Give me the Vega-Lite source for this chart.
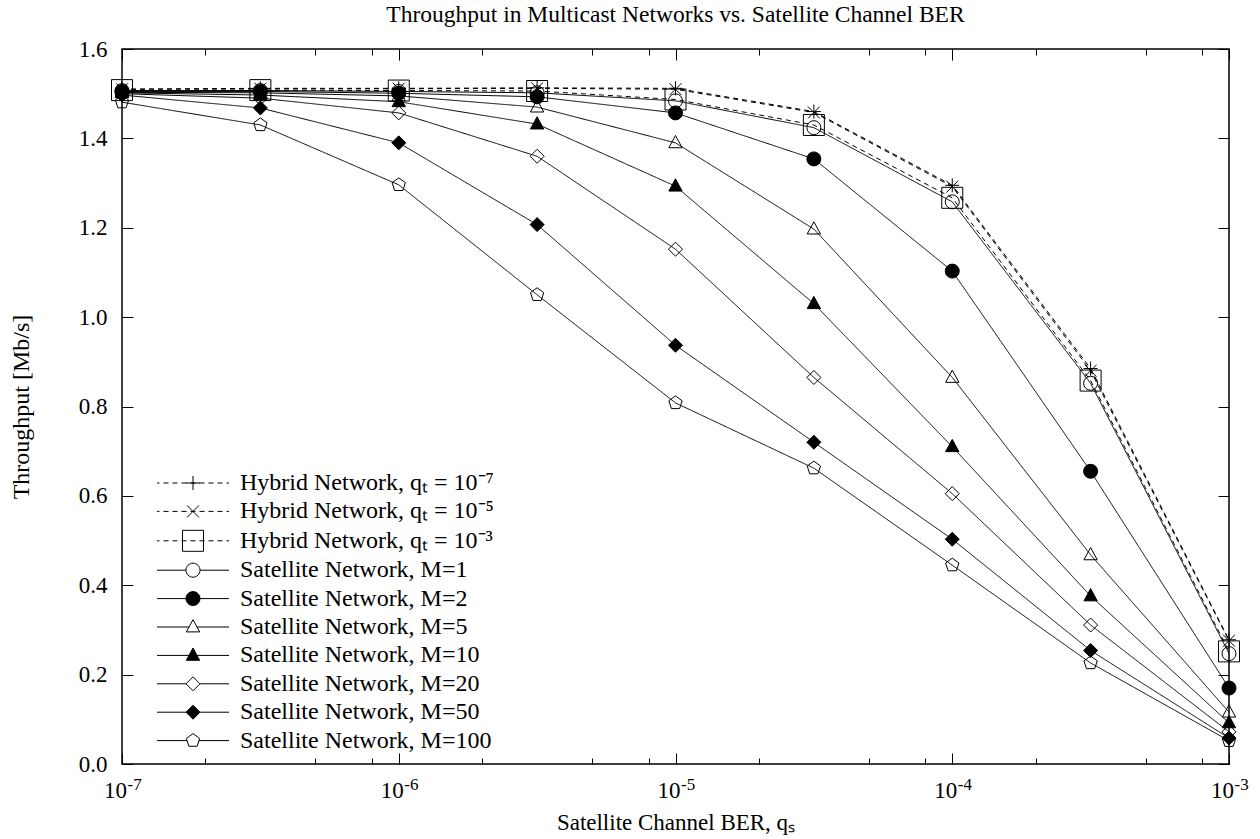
{
  "$schema": "https://vega.github.io/schema/vega-lite/v6.json",
  "width": 1107,
  "height": 715,
  "autosize": {"type": "none"},
  "padding": {"left": 122, "top": 49, "right": 31, "bottom": 75},
  "background": "white",
  "title": {"text": "Throughput in Multicast Networks vs. Satellite Channel BER", "font": "Liberation Serif", "fontSize": 23.5, "fontWeight": "normal", "color": "black", "anchor": "middle", "offset": 12},
  "config": {"view": {"stroke": "black", "strokeWidth": 1.5}, "font": "Liberation Serif"},
  "data": {"values": [
    {"s":"H7","q":1e-7,"t":1.510},{"s":"H7","q":3.162e-7,"t":1.512},{"s":"H7","q":1e-6,"t":1.512},{"s":"H7","q":3.162e-6,"t":1.513},{"s":"H7","q":1e-5,"t":1.512},{"s":"H7","q":3.162e-5,"t":1.460},{"s":"H7","q":1e-4,"t":1.295},{"s":"H7","q":3.162e-4,"t":0.885},{"s":"H7","q":1e-3,"t":0.278},
    {"s":"H5","q":1e-7,"t":1.510},{"s":"H5","q":3.162e-7,"t":1.511},{"s":"H5","q":1e-6,"t":1.511},{"s":"H5","q":3.162e-6,"t":1.512},{"s":"H5","q":1e-5,"t":1.510},{"s":"H5","q":3.162e-5,"t":1.458},{"s":"H5","q":1e-4,"t":1.292},{"s":"H5","q":3.162e-4,"t":0.880},{"s":"H5","q":1e-3,"t":0.276},
    {"s":"H3","q":1e-7,"t":1.508},{"s":"H3","q":3.162e-7,"t":1.508},{"s":"H3","q":1e-6,"t":1.507},{"s":"H3","q":3.162e-6,"t":1.506},{"s":"H3","q":1e-5,"t":1.487},{"s":"H3","q":3.162e-5,"t":1.430},{"s":"H3","q":1e-4,"t":1.267},{"s":"H3","q":3.162e-4,"t":0.858},{"s":"H3","q":1e-3,"t":0.252},
    {"s":"M1","q":1e-7,"t":1.507},{"s":"M1","q":3.162e-7,"t":1.507},{"s":"M1","q":1e-6,"t":1.505},{"s":"M1","q":3.162e-6,"t":1.502},{"s":"M1","q":1e-5,"t":1.484},{"s":"M1","q":3.162e-5,"t":1.424},{"s":"M1","q":1e-4,"t":1.258},{"s":"M1","q":3.162e-4,"t":0.852},{"s":"M1","q":1e-3,"t":0.247},
    {"s":"M2","q":1e-7,"t":1.505},{"s":"M2","q":3.162e-7,"t":1.505},{"s":"M2","q":1e-6,"t":1.501},{"s":"M2","q":3.162e-6,"t":1.493},{"s":"M2","q":1e-5,"t":1.457},{"s":"M2","q":3.162e-5,"t":1.354},{"s":"M2","q":1e-4,"t":1.103},{"s":"M2","q":3.162e-4,"t":0.655},{"s":"M2","q":1e-3,"t":0.170},
    {"s":"M5","q":1e-7,"t":1.503},{"s":"M5","q":3.162e-7,"t":1.502},{"s":"M5","q":1e-6,"t":1.495},{"s":"M5","q":3.162e-6,"t":1.470},{"s":"M5","q":1e-5,"t":1.390},{"s":"M5","q":3.162e-5,"t":1.197},{"s":"M5","q":1e-4,"t":0.865},{"s":"M5","q":3.162e-4,"t":0.468},{"s":"M5","q":1e-3,"t":0.116},
    {"s":"M10","q":1e-7,"t":1.502},{"s":"M10","q":3.162e-7,"t":1.497},{"s":"M10","q":1e-6,"t":1.482},{"s":"M10","q":3.162e-6,"t":1.432},{"s":"M10","q":1e-5,"t":1.293},{"s":"M10","q":3.162e-5,"t":1.030},{"s":"M10","q":1e-4,"t":0.710},{"s":"M10","q":3.162e-4,"t":0.376},{"s":"M10","q":1e-3,"t":0.092},
    {"s":"M20","q":1e-7,"t":1.500},{"s":"M20","q":3.162e-7,"t":1.490},{"s":"M20","q":1e-6,"t":1.457},{"s":"M20","q":3.162e-6,"t":1.360},{"s":"M20","q":1e-5,"t":1.152},{"s":"M20","q":3.162e-5,"t":0.865},{"s":"M20","q":1e-4,"t":0.605},{"s":"M20","q":3.162e-4,"t":0.311},{"s":"M20","q":1e-3,"t":0.072},
    {"s":"M50","q":1e-7,"t":1.497},{"s":"M50","q":3.162e-7,"t":1.468},{"s":"M50","q":1e-6,"t":1.390},{"s":"M50","q":3.162e-6,"t":1.207},{"s":"M50","q":1e-5,"t":0.937},{"s":"M50","q":3.162e-5,"t":0.720},{"s":"M50","q":1e-4,"t":0.503},{"s":"M50","q":3.162e-4,"t":0.254},{"s":"M50","q":1e-3,"t":0.058},
    {"s":"M100","q":1e-7,"t":1.481},{"s":"M100","q":3.162e-7,"t":1.430},{"s":"M100","q":1e-6,"t":1.296},{"s":"M100","q":3.162e-6,"t":1.050},{"s":"M100","q":1e-5,"t":0.808},{"s":"M100","q":3.162e-5,"t":0.662},{"s":"M100","q":1e-4,"t":0.445},{"s":"M100","q":3.162e-4,"t":0.226},{"s":"M100","q":1e-3,"t":0.052}
  ]},
  "layer": [
    {
      "mark": {"type": "line", "stroke": "black", "strokeWidth": 1},
      "encoding": {
        "x": {"field": "q", "type": "quantitative", "scale": {"type": "log", "domain": [1e-7, 1e-3], "nice": false},
          "axis": {"orient": "bottom", "values": [1e-7, 1e-6, 1e-5, 1e-4, 1e-3], "tickSize": -11, "tickColor": "black", "tickWidth": 1, "domain": false, "grid": false,
            "labelExpr": "'10'", "labelFont": "Liberation Serif", "labelFontSize": 23, "labelColor": "black", "labelBaseline": "alphabetic", "labelAlign": "center", "labelOffset": -7, "labelPadding": 44, "labelFlush": false, "labelOverlap": false, "labelBound": false,
            "title": "Satellite Channel BER, qₛ", "titleFont": "Liberation Serif", "titleFontSize": 23, "titleFontWeight": "normal", "titleColor": "black", "titleX": 553.5, "titleY": 65, "titleAlign": "center", "titleBaseline": "alphabetic"}},
        "y": {"field": "t", "type": "quantitative", "scale": {"domain": [0, 1.6], "nice": false, "zero": false},
          "axis": {"orient": "left", "values": [0, 0.2, 0.4, 0.6, 0.8, 1, 1.2, 1.4, 1.6], "format": ".1f", "tickSize": -11, "tickColor": "black", "tickWidth": 1, "domain": false, "grid": false,
            "labelFont": "Liberation Serif", "labelFontSize": 23, "labelColor": "black", "labelAlign": "right", "labelBaseline": "middle", "labelPadding": 26, "labelFlush": false, "labelOverlap": false,
            "title": "Throughput [Mb/s]", "titleFont": "Liberation Serif", "titleFontSize": 24, "titleFontWeight": "normal", "titleColor": "black", "titleX": -94, "titleY": 357.5, "titleAngle": 270, "titleAlign": "center", "titleBaseline": "alphabetic"}},
        "detail": {"field": "s", "type": "nominal"},
        "strokeDash": {"condition": {"test": "datum.s == 'H7' || datum.s == 'H5' || datum.s == 'H3'", "value": [5, 4]}, "value": [1, 0]}
      }
    },
    {
      "mark": {"type": "point", "stroke": "black", "strokeWidth": 1, "size": 196, "opacity": 1},
      "encoding": {
        "x": {"field": "q", "type": "quantitative",
          "axis": {"orient": "bottom", "values": [2e-7, 5e-7, 8e-7, 2e-6, 5e-6, 8e-6, 2e-5, 5e-5, 8e-5, 2e-4, 5e-4, 8e-4], "tickSize": -6, "tickColor": "black", "tickWidth": 1, "labels": false, "domain": false, "grid": false, "title": null}},
        "y": {"field": "t", "type": "quantitative",
          "axis": {"orient": "right", "values": [0, 0.2, 0.4, 0.6, 0.8, 1, 1.2, 1.4, 1.6], "tickSize": -11, "tickColor": "black", "tickWidth": 1, "labels": false, "domain": false, "grid": false, "title": null}},
        "shape": {"condition": [
            {"test": "datum.s == 'H7'", "value": "M-1,0L1,0M0,-1L0,1"},
            {"test": "datum.s == 'H5'", "value": "M-0.85,-0.85L0.85,0.85M-0.85,0.85L0.85,-0.85"},
            {"test": "datum.s == 'H3'", "value": "M-1.5,-1.5L1.5,-1.5L1.5,1.5L-1.5,1.5Z"},
            {"test": "datum.s == 'M1' || datum.s == 'M2'", "value": "circle"},
            {"test": "datum.s == 'M5' || datum.s == 'M10'", "value": "M0,-1.05L0.95,0.7L-0.95,0.7Z"},
            {"test": "datum.s == 'M20' || datum.s == 'M50'", "value": "M0,-1L1,0L0,1L-1,0Z"}
          ], "value": "M0,-1L0.951,-0.309L0.588,0.809L-0.588,0.809L-0.951,-0.309Z"},
        "fill": {"condition": {"test": "datum.s == 'M2' || datum.s == 'M10' || datum.s == 'M50'", "value": "black"}, "value": "transparent"}
      }
    },
    {
      "mark": {"type": "point", "strokeWidth": 1, "size": 0, "opacity": 1},
      "encoding": {
        "x": {"field": "q", "type": "quantitative",
          "axis": {"orient": "bottom", "values": [1e-7, 1e-6, 1e-5, 1e-4, 1e-3], "ticks": false, "domain": false, "grid": false, "title": null,
            "labelExpr": "datum.value < 5e-7 ? '-7' : datum.value < 5e-6 ? '-6' : datum.value < 5e-5 ? '-5' : datum.value < 5e-4 ? '-4' : '-3'",
            "labelFont": "Liberation Serif", "labelFontSize": 17, "labelColor": "black", "labelAlign": "left", "labelBaseline": "alphabetic", "labelOffset": 5, "labelPadding": 25, "labelFlush": false, "labelOverlap": false, "labelBound": false}},
        "y": {"field": "t", "type": "quantitative", "axis": null},
        "shape": {"field": "s", "type": "nominal",
          "scale": {"domain": ["H7","H5","H3","M1","M2","M5","M10","M20","M50","M100"],
            "range": [
              "M-5.143,0L-4.786,0M-4.214,0L-3.5,0M-2.929,0L-2.214,0M-1.643,0L-0.929,0M-0.357,0L0.357,0M0.929,0L1.643,0M2.214,0L2.929,0M3.5,0L4.214,0M4.786,0L5.143,0M-1,0L1,0M0,-1L0,1",
              "M-5.143,0L-4.786,0M-4.214,0L-3.5,0M-2.929,0L-2.214,0M-1.643,0L-0.929,0M-0.357,0L0.357,0M0.929,0L1.643,0M2.214,0L2.929,0M3.5,0L4.214,0M4.786,0L5.143,0M-0.85,-0.85L0.85,0.85M-0.85,0.85L0.85,-0.85",
              "M-5.143,0L-4.786,0M-4.214,0L-3.5,0M-2.929,0L-2.214,0M-1.643,0L-0.929,0M-0.357,0L0.357,0M0.929,0L1.643,0M2.214,0L2.929,0M3.5,0L4.214,0M4.786,0L5.143,0M-1.5,-1.5L1.5,-1.5L1.5,1.5L-1.5,1.5Z",
              "M-5.143,0L-1,0M1,0L5.143,0M1,0C1,0.552 0.552,1 0,1C-0.552,1 -1,0.552 -1,0C-1,-0.552 -0.552,-1 0,-1C0.552,-1 1,-0.552 1,0Z",
              "M-5.143,0L-1,0M1,0L5.143,0M1,0C1,0.552 0.552,1 0,1C-0.552,1 -1,0.552 -1,0C-1,-0.552 -0.552,-1 0,-1C0.552,-1 1,-0.552 1,0Z",
              "M-5.143,0L-0.57,0M0.57,0L5.143,0M0,-1.05L0.95,0.7L-0.95,0.7Z",
              "M-5.143,0L-0.57,0M0.57,0L5.143,0M0,-1.05L0.95,0.7L-0.95,0.7Z",
              "M-5.143,0L-1,0M1,0L5.143,0M0,-1L1,0L0,1L-1,0Z",
              "M-5.143,0L-1,0M1,0L5.143,0M0,-1L1,0L0,1L-1,0Z",
              "M-5.143,0L-0.85,0M0.85,0L5.143,0M0,-1L0.951,-0.309L0.588,0.809L-0.588,0.809L-0.951,-0.309Z"
            ]},
          "legend": {"orient": "none", "legendX": 59, "legendY": 422, "title": null, "padding": 0, "rowPadding": 4.4,
            "labelFont": "Liberation Serif", "labelFontSize": 24, "labelColor": "black", "labelOffset": 35, "labelLimit": 600,
            "symbolSize": 196, "symbolStrokeWidth": 1, "symbolOpacity": 1,
            "labelExpr": "datum.value == 'H7' ? 'Hybrid Network, qₜ = 10⁻⁷' : datum.value == 'H5' ? 'Hybrid Network, qₜ = 10⁻⁵' : datum.value == 'H3' ? 'Hybrid Network, qₜ = 10⁻³' : 'Satellite Network, M=' + slice(datum.value, 1)"}},
        "fill": {"field": "s", "type": "nominal",
          "scale": {"domain": ["H7","H5","H3","M1","M2","M5","M10","M20","M50","M100"], "range": ["transparent","transparent","transparent","transparent","black","transparent","black","transparent","black","transparent"]}},
        "stroke": {"field": "s", "type": "nominal",
          "scale": {"domain": ["H7","H5","H3","M1","M2","M5","M10","M20","M50","M100"], "range": ["black","black","black","black","black","black","black","black","black","black"]}}
      }
    },
    {
      "mark": {"type": "point", "opacity": 0},
      "encoding": {
        "x": {"field": "q", "type": "quantitative",
          "axis": {"orient": "top", "values": [1e-7, 1e-6, 1e-5, 1e-4, 1e-3], "tickSize": -11, "tickColor": "black", "tickWidth": 1, "labels": false, "domain": false, "grid": false, "title": null}},
        "y": {"field": "t", "type": "quantitative", "axis": null}
      }
    },
    {
      "mark": {"type": "point", "opacity": 0},
      "encoding": {
        "x": {"field": "q", "type": "quantitative",
          "axis": {"orient": "top", "values": [2e-7, 5e-7, 8e-7, 2e-6, 5e-6, 8e-6, 2e-5, 5e-5, 8e-5, 2e-4, 5e-4, 8e-4], "tickSize": -6, "tickColor": "black", "tickWidth": 1, "labels": false, "domain": false, "grid": false, "title": null}},
        "y": {"field": "t", "type": "quantitative", "axis": null}
      }
    }
  ],
  "resolve": {"axis": {"x": "independent", "y": "independent"}}
}
